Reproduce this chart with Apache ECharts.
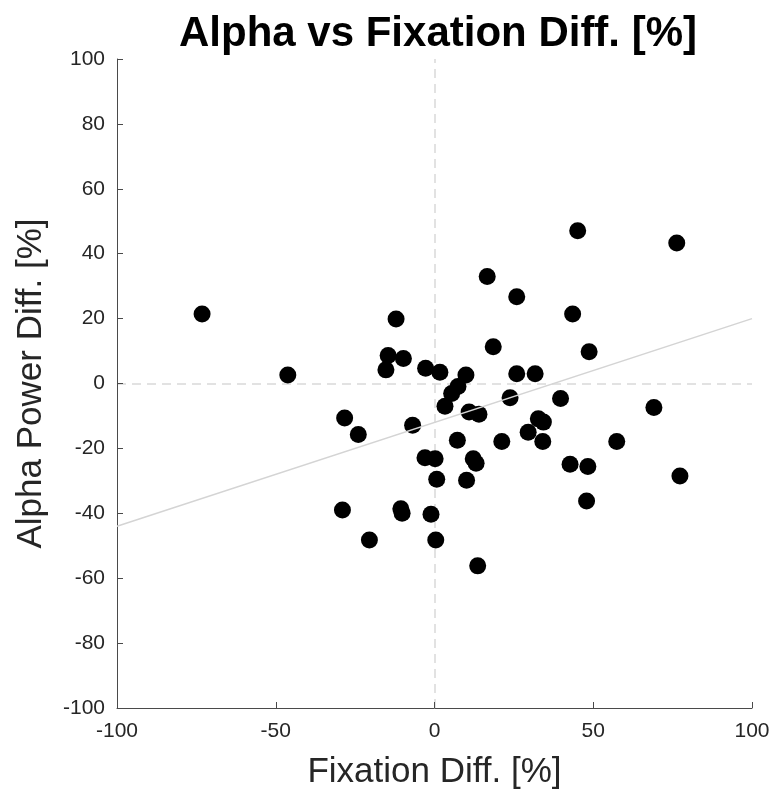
<!DOCTYPE html>
<html>
<head>
<meta charset="utf-8">
<script src="https://cdn.jsdelivr.net/npm/echarts@6/dist/echarts.min.js"></script>
<style>
  html, body { margin: 0; padding: 0; background: #fff; }
  #chart { width: 778px; height: 795px; }
</style>
</head>
<body>
<div id="chart"></div>
<script>
// fixation difference [%] per subject
var fixDiff = [
  -73.2, -46.2, -28.3, -24.0, -29.0, -20.5, -12.1, -14.6, -15.3, -9.8,
  -10.6, -10.2, -6.9, -2.8, -3.0, 0.2, -1.1, 0.7, 0.4, 1.7,
  3.3, 5.4, 7.4, 9.9, 7.2, 10.9, 14.0, 12.2, 13.1, 10.1,
  13.6, 16.6, 18.5, 21.2, 23.8, 25.9, 25.9, 29.5, 31.7, 32.7,
  34.3, 34.1, 39.7, 42.7, 43.5, 45.1, 48.3, 47.9, 48.7, 57.4,
  69.1, 76.3, 77.3
];
// alpha power difference [%] per subject
var alphaDiff = [
  21.4, 2.6, -10.6, -15.7, -39.0, -48.2, 19.9, 8.6, 4.2, 7.7,
  -38.6, -40.0, -12.9, 4.7, -22.9, -23.2, -40.3, -29.5, -48.2, 3.5,
  -7.0, -3.1, -0.9, 2.6, -17.5, -8.8, -9.5, -23.2, -24.6, -29.8,
  -56.2, 33.0, 11.3, -17.9, -4.4, 26.7, 3.0, -15.0, 3.0, -10.9,
  -11.9, -17.9, -4.6, -24.9, 21.4, 47.1, -25.6, -36.2, 9.8, -17.9,
  -7.4, 43.3, -28.5
];
// least squares fit line end points
var fitX = [-100, 100];
var fitY = [-44, 20];

var fontFam = 'Liberation Sans, Arial, Helvetica, sans-serif';
var axisCol = '#4a4a4a';

var scatterData = [];
for (var i = 0; i < fixDiff.length; i++) {
  scatterData.push([fixDiff[i], alphaDiff[i]]);
}
var fitData = [];
for (var j = 0; j < fitX.length; j++) {
  fitData.push([fitX[j], fitY[j]]);
}

var chart = echarts.init(document.getElementById('chart'));
chart.setOption({
  animation: false,
  backgroundColor: '#fff',
  title: {
    text: 'Alpha vs Fixation Diff. [%]',
    left: 433,
    top: 8,
    textAlign: 'center',
    textStyle: { fontFamily: fontFam, fontSize: 42, fontWeight: 'bold', color: '#000' }
  },
  grid: { left: 117, right: 26, top: 59, bottom: 86 },
  xAxis: {
    type: 'value',
    min: -100, max: 100, interval: 50,
    name: 'Fixation Diff. [%]',
    nameLocation: 'middle',
    nameGap: 47,
    nameTextStyle: { fontFamily: fontFam, fontSize: 35, color: '#262626' },
    axisLine: { onZero: false, lineStyle: { color: axisCol, width: 1 } },
    axisTick: { inside: true, length: 6, lineStyle: { color: axisCol } },
    axisLabel: { fontFamily: fontFam, fontSize: 21, color: '#262626', margin: 13 },
    splitLine: { show: false }
  },
  yAxis: {
    type: 'value',
    min: -100, max: 100, interval: 20,
    name: 'Alpha Power Diff. [%]',
    nameLocation: 'middle',
    nameGap: 68,
    nameTextStyle: { fontFamily: fontFam, fontSize: 35, color: '#262626' },
    axisLine: { onZero: false, lineStyle: { color: axisCol, width: 1 } },
    axisTick: { inside: true, length: 6, lineStyle: { color: axisCol } },
    axisLabel: { fontFamily: fontFam, fontSize: 21, color: '#262626', margin: 12 },
    splitLine: { show: false }
  },
  series: [
    {
      // zero reference lines, drawn under the points
      type: 'line',
      data: [],
      silent: true,
      z: 0,
      markLine: {
        z: 0,
        silent: true,
        symbol: 'none',
        label: { show: false },
        lineStyle: { color: '#d9d9d9', type: [9, 6], width: 1.5 },
        data: [{ xAxis: 0 }, { yAxis: 0 }]
      }
    },
    {
      type: 'scatter',
      data: scatterData,
      symbol: 'circle',
      symbolSize: 17,
      z: 3,
      itemStyle: { color: '#000', opacity: 1 }
    },
    {
      type: 'line',
      data: fitData,
      symbol: 'none',
      silent: true,
      z: 4,
      lineStyle: { color: '#d4d4d4', width: 1.5 }
    }
  ]
});
</script>
</body>
</html>
